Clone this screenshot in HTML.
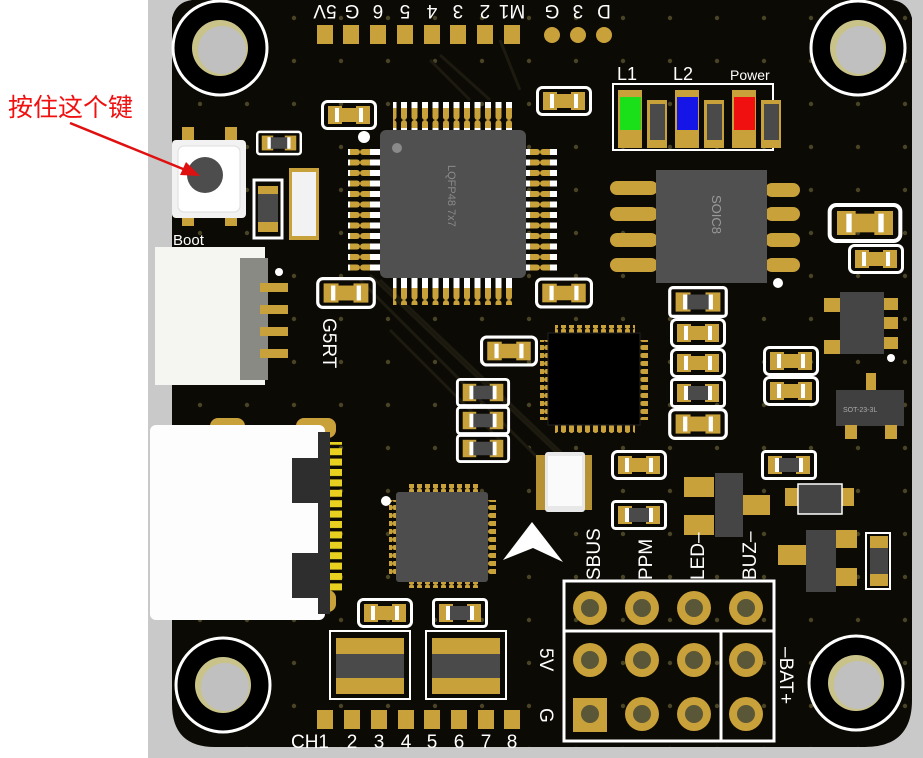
<!DOCTYPE html>
<html><head><meta charset="utf-8"><style>
html,body{margin:0;padding:0;background:#fff;width:923px;height:758px;overflow:hidden}
svg{display:block}
text{font-family:"Liberation Sans","Noto Sans CJK SC",sans-serif}
</style></head><body>
<svg width="923" height="758" viewBox="0 0 923 758" xmlns="http://www.w3.org/2000/svg">
<defs>
<symbol id="capH" viewBox="0 0 56 30" width="56" height="30"><rect x="1.5" y="1.5" width="53" height="27" rx="5" fill="none" stroke="#fff" stroke-width="3"/><rect x="7" y="6" width="14" height="18" fill="#c9a13a"/><rect x="35" y="6" width="14" height="18" fill="#c9a13a"/><rect x="17" y="8" width="22" height="14" fill="#c9a13a"/><rect x="14" y="8" width="4" height="14" fill="#fff"/><rect x="38" y="8" width="4" height="14" fill="#fff"/></symbol>
<symbol id="resH" viewBox="0 0 56 30" width="56" height="30"><rect x="1.5" y="1.5" width="53" height="27" rx="3" fill="none" stroke="#fff" stroke-width="3"/><rect x="7" y="6" width="14" height="18" fill="#c9a13a"/><rect x="35" y="6" width="14" height="18" fill="#c9a13a"/><rect x="17" y="8" width="22" height="14" fill="#4a4a4a"/><rect x="14" y="8" width="4" height="14" fill="#fff"/><rect x="38" y="8" width="4" height="14" fill="#fff"/></symbol>
<pattern id="pinV" width="10.5" height="30" patternUnits="userSpaceOnUse"><rect x="2" y="0" width="6" height="30" rx="3" fill="#c9a13a"/><rect x="2" y="8" width="6" height="10" fill="#fff"/></pattern>
<pattern id="pinH" width="30" height="10.5" patternUnits="userSpaceOnUse"><rect x="0" y="2" width="30" height="6" rx="3" fill="#c9a13a"/><rect x="10" y="2" width="10" height="6" fill="#fff"/></pattern>
<pattern id="qfnH" width="8" height="8" patternUnits="userSpaceOnUse"><rect x="1" y="0" width="5" height="10" rx="2.5" fill="#c9a13a"/></pattern>
<pattern id="qfnV" width="8" height="8" patternUnits="userSpaceOnUse"><rect x="0" y="1" width="10" height="5" rx="2.5" fill="#c9a13a"/></pattern>
<pattern id="usbP" width="10" height="10.4" patternUnits="userSpaceOnUse"><rect x="0" y="1" width="10" height="7" fill="#e8d020"/></pattern>
<pattern id="dots" width="47" height="43" patternUnits="userSpaceOnUse"><circle cx="12" cy="18" r="2.2" fill="#5a5230"/></pattern>
</defs>
<rect x="148" y="0" width="775" height="758" fill="#c9c9c9"/>
<path d="M172 0 H912 V700 Q912 747 865 747 H215 Q172 747 172 704 V0 Z" fill="#0c0a05"/>
<path d="M172 0 H912 V700 Q912 747 865 747 H215 Q172 747 172 704 V0 Z" fill="url(#dots)" opacity="0.8"/>
<path d="M172 0 V18 Q176 2 192 0 Z" fill="#c9c9c9"/>
<path d="M912 0 V18 Q908 2 892 0 Z" fill="#c9c9c9"/>
<g stroke="#1d1a10" stroke-width="3" fill="none">
<path d="M360 280 L560 480 M370 275 L575 470 M380 280 L590 480 M390 330 L500 440"/>
<path d="M430 60 L470 100 M440 55 L490 100 M500 40 L520 90"/>
</g>
<g>
<circle cx="220" cy="48" r="47" fill="#000" stroke="#fff" stroke-width="3"/><circle cx="220" cy="48" r="28" fill="#c9c38a"/><circle cx="222" cy="50" r="24" fill="#c0c0c0"/>
<circle cx="858" cy="48" r="47" fill="#000" stroke="#fff" stroke-width="3"/><circle cx="858" cy="48" r="28" fill="#c9c38a"/><circle cx="860" cy="50" r="24" fill="#c0c0c0"/>
<circle cx="223" cy="685" r="47" fill="#000" stroke="#fff" stroke-width="3"/><circle cx="223" cy="685" r="28" fill="#c9c38a"/><circle cx="225" cy="687" r="24" fill="#c0c0c0"/>
<circle cx="856" cy="683" r="47" fill="#000" stroke="#fff" stroke-width="3"/><circle cx="856" cy="683" r="28" fill="#c9c38a"/><circle cx="858" cy="685" r="24" fill="#c0c0c0"/>
</g>
<g fill="#c9a13a">
<rect x="317" y="25" width="16" height="19"/><rect x="343" y="25" width="16" height="19"/><rect x="370" y="25" width="16" height="19"/><rect x="397" y="25" width="16" height="19"/><rect x="424" y="25" width="16" height="19"/><rect x="450" y="25" width="16" height="19"/><rect x="477" y="25" width="16" height="19"/><rect x="504" y="25" width="16" height="19"/>
<circle cx="552" cy="35" r="8"/><circle cx="578" cy="35" r="8"/><circle cx="604" cy="35" r="8"/>
</g>
<g fill="#fff" font-size="19" text-anchor="middle">
<text transform="translate(325,5) rotate(180)">5V</text>
<text transform="translate(352,5) rotate(180)">G</text>
<text transform="translate(378,5) rotate(180)">6</text>
<text transform="translate(405,5) rotate(180)">5</text>
<text transform="translate(432,5) rotate(180)">4</text>
<text transform="translate(458,5) rotate(180)">3</text>
<text transform="translate(485,5) rotate(180)">2</text>
<text transform="translate(512,5) rotate(180)">M1</text>
<text transform="translate(552,5) rotate(180)">G</text>
<text transform="translate(578,5) rotate(180)">3</text>
<text transform="translate(604,5) rotate(180)">D</text>
</g>
<g fill="#c9a13a">
<rect x="317" y="710" width="16" height="19"/><rect x="344" y="710" width="16" height="19"/><rect x="371" y="710" width="16" height="19"/><rect x="398" y="710" width="16" height="19"/><rect x="424" y="710" width="16" height="19"/><rect x="451" y="710" width="16" height="19"/><rect x="478" y="710" width="16" height="19"/><rect x="504" y="710" width="16" height="19"/>
</g>
<g fill="#fff" font-size="19" text-anchor="middle">
<text x="310" y="748">CH1</text><text x="352" y="748">2</text><text x="379" y="748">3</text><text x="406" y="748">4</text><text x="432" y="748">5</text><text x="459" y="748">6</text><text x="486" y="748">7</text><text x="512" y="748">8</text>
</g>
<rect x="393" y="102" width="120" height="30" fill="url(#pinV)"/>
<rect x="393" y="275" width="120" height="30" fill="url(#pinV)"/>
<rect x="348" y="147" width="32" height="124" fill="url(#pinH)"/>
<rect x="525" y="147" width="32" height="124" fill="url(#pinH)"/>
<rect x="380" y="130" width="146" height="148" rx="6" fill="#505050"/>
<circle cx="397" cy="148" r="5" fill="#8a8a8a"/>
<text transform="translate(448,165) rotate(90)" fill="#8a8a8a" font-size="11">LQFP48  7x7</text>
<circle cx="364" cy="137" r="6" fill="#fff"/>
<use href="#capH" x="320" y="100" width="58" height="30"/>
<use href="#capH" x="536" y="86" width="56" height="30"/>
<use href="#resH" x="256" y="128" width="46" height="30"/>
<use href="#capH" x="316" y="277" width="60" height="32"/>
<use href="#capH" x="535" y="277" width="58" height="32"/>
<use href="#capH" x="480" y="335" width="58" height="32"/>
<use href="#resH" x="455" y="378" width="56" height="29"/>
<use href="#resH" x="455" y="406" width="56" height="29"/>
<use href="#resH" x="455" y="434" width="56" height="29"/>
<use href="#resH" x="668" y="286" width="60" height="32"/>
<use href="#capH" x="668" y="318" width="60" height="30"/>
<use href="#capH" x="668" y="348" width="60" height="30"/>
<use href="#resH" x="668" y="378" width="60" height="30"/>
<use href="#capH" x="668" y="408" width="60" height="32"/>
<use href="#capH" x="760" y="346" width="62" height="30"/>
<use href="#capH" x="760" y="376" width="62" height="30"/>
<use href="#capH" x="825" y="203" width="80" height="40"/>
<use href="#capH" x="847" y="244" width="58" height="30"/>
<use href="#capH" x="609" y="450" width="60" height="30"/>
<use href="#resH" x="609" y="500" width="60" height="30"/>
<use href="#resH" x="760" y="450" width="58" height="30"/>
<use href="#capH" x="354" y="598" width="62" height="30"/>
<use href="#resH" x="424" y="598" width="72" height="30"/>
<rect x="182" y="127" width="12" height="16" fill="#c9a13a"/><rect x="225" y="127" width="12" height="16" fill="#c9a13a"/>
<rect x="182" y="210" width="12" height="16" fill="#c9a13a"/><rect x="225" y="210" width="12" height="16" fill="#c9a13a"/>
<rect x="172" y="140" width="74" height="78" rx="4" fill="#f2f2f2"/>
<rect x="178" y="146" width="62" height="66" rx="6" fill="#fff" stroke="#ddd"/>
<circle cx="205" cy="175" r="18" fill="#4d4d4d"/>
<text x="173" y="245" fill="#fff" font-size="15">Boot</text>
<rect x="254" y="180" width="28" height="58" fill="none" stroke="#fff" stroke-width="3"/>
<rect x="258" y="186" width="20" height="46" fill="#c9a13a"/><rect x="258" y="194" width="20" height="28" fill="#4a4a4a"/>
<rect x="289" y="168" width="30" height="72" fill="#c9a13a"/><rect x="292" y="172" width="24" height="64" fill="#f2f2f2"/>
<rect x="155" y="247" width="110" height="138" fill="#f5f5f2"/>
<rect x="240" y="258" width="28" height="122" fill="#8a8a85"/>
<g fill="#c9a13a"><rect x="260" y="283" width="28" height="9"/><rect x="260" y="305" width="28" height="9"/><rect x="260" y="327" width="28" height="9"/><rect x="260" y="349" width="28" height="9"/></g>
<circle cx="279" cy="272" r="4" fill="#fff"/>
<text transform="translate(323,318) rotate(90)" fill="#fff" font-size="19">G5RT</text>
<rect x="210" y="418" width="35" height="20" rx="8" fill="#c9a13a"/><rect x="296" y="418" width="40" height="20" rx="8" fill="#c9a13a"/>
<rect x="300" y="590" width="36" height="22" rx="8" fill="#c9a13a"/>
<rect x="326" y="442" width="16" height="150" fill="url(#usbP)"/>
<rect x="150" y="425" width="175" height="195" rx="6" fill="#fdfdfd"/>
<rect x="318" y="432" width="12" height="182" fill="#2e2e2e"/>
<rect x="292" y="458" width="30" height="45" fill="#2e2e2e"/><rect x="292" y="553" width="30" height="45" fill="#2e2e2e"/>
<rect x="555" y="325" width="80" height="10" fill="url(#qfnH)"/>
<rect x="555" y="423" width="80" height="10" fill="url(#qfnH)"/>
<rect x="540" y="340" width="10" height="80" fill="url(#qfnV)"/>
<rect x="638" y="340" width="10" height="80" fill="url(#qfnV)"/>
<rect x="548" y="333" width="92" height="92" fill="#000" stroke="#222"/>
<rect x="406" y="484" width="74" height="10" fill="url(#qfnH)"/>
<rect x="406" y="578" width="74" height="10" fill="url(#qfnH)"/>
<rect x="389" y="500" width="10" height="74" fill="url(#qfnV)"/>
<rect x="486" y="500" width="10" height="74" fill="url(#qfnV)"/>
<rect x="396" y="492" width="92" height="90" rx="3" fill="#4d4d4d"/>
<circle cx="386" cy="501" r="5" fill="#fff"/>
<rect x="536" y="455" width="56" height="55" fill="#c9a13a" opacity="0.9"/>
<rect x="545" y="452" width="40" height="60" rx="3" fill="#e8e8e8"/>
<rect x="548" y="456" width="34" height="50" fill="#fafafa"/>
<path d="M503 560 L532 522 L563 562 L533 548 Z" fill="#fff"/>
<rect x="613" y="84" width="160" height="66" fill="none" stroke="#fff" stroke-width="2"/>
<g>
<rect x="618" y="90" width="24" height="58" fill="#c9a13a"/><rect x="620" y="97" width="21" height="33" fill="#19e019"/>
<rect x="647" y="100" width="20" height="48" fill="#c9a13a"/><rect x="650" y="104" width="15" height="36" fill="#4a4a4a"/>
<rect x="675" y="90" width="24" height="58" fill="#c9a13a"/><rect x="677" y="97" width="21" height="33" fill="#1515e8"/>
<rect x="704" y="100" width="20" height="48" fill="#c9a13a"/><rect x="707" y="104" width="15" height="36" fill="#4a4a4a"/>
<rect x="732" y="90" width="24" height="58" fill="#c9a13a"/><rect x="734" y="97" width="21" height="33" fill="#f01010"/>
<rect x="761" y="100" width="20" height="48" fill="#c9a13a"/><rect x="764" y="104" width="15" height="36" fill="#4a4a4a"/>
</g>
<g fill="#fff" font-size="18"><text x="617" y="80">L1</text><text x="673" y="80">L2</text><text x="730" y="80" font-size="14">Power</text></g>
<g fill="#c9a13a">
<rect x="610" y="181" width="48" height="14" rx="7"/><rect x="610" y="207" width="48" height="14" rx="7"/><rect x="610" y="233" width="48" height="14" rx="7"/><rect x="610" y="258" width="48" height="14" rx="7"/>
<rect x="765" y="183" width="35" height="14" rx="7"/><rect x="765" y="207" width="35" height="14" rx="7"/><rect x="765" y="233" width="35" height="14" rx="7"/><rect x="765" y="258" width="35" height="14" rx="7"/>
</g>
<rect x="656" y="170" width="111" height="113" fill="#505050"/>
<text transform="translate(712,195) rotate(90)" fill="#999" font-size="13">SOIC8</text>
<circle cx="778" cy="283" r="5" fill="#fff"/>
<g fill="#c9a13a"><rect x="824" y="298" width="20" height="14"/><rect x="824" y="340" width="20" height="14"/><rect x="880" y="298" width="18" height="12"/><rect x="880" y="317" width="18" height="12"/><rect x="880" y="337" width="18" height="12"/></g>
<rect x="840" y="292" width="44" height="62" fill="#454545"/>
<circle cx="891" cy="358" r="4" fill="#fff"/>
<rect x="866" y="373" width="10" height="20" fill="#c9a13a"/>
<rect x="836" y="390" width="68" height="36" fill="#404040"/>
<text x="843" y="412" fill="#aaa" font-size="7">SOT-23-3L</text>
<rect x="845" y="425" width="12" height="14" fill="#c9a13a"/><rect x="885" y="425" width="12" height="14" fill="#c9a13a"/>
<rect x="684" y="477" width="30" height="20" fill="#c9a13a"/><rect x="684" y="515" width="30" height="20" fill="#c9a13a"/><rect x="740" y="495" width="30" height="20" fill="#c9a13a"/>
<rect x="715" y="473" width="28" height="64" fill="#454545"/>
<rect x="785" y="488" width="14" height="18" fill="#c9a13a"/><rect x="840" y="488" width="14" height="18" fill="#c9a13a"/>
<rect x="798" y="484" width="44" height="30" fill="#444" stroke="#fff" stroke-width="1.5"/>
<rect x="778" y="545" width="28" height="20" fill="#c9a13a"/><rect x="835" y="530" width="22" height="18" fill="#c9a13a"/><rect x="835" y="568" width="22" height="18" fill="#c9a13a"/>
<rect x="806" y="530" width="30" height="62" fill="#454545"/>
<rect x="866" y="533" width="24" height="56" fill="none" stroke="#fff" stroke-width="2"/>
<rect x="870" y="536" width="18" height="50" fill="#c9a13a"/><rect x="870" y="548" width="18" height="26" fill="#454545"/>
<g>
<rect x="330" y="631" width="80" height="68" fill="none" stroke="#fff" stroke-width="2"/>
<rect x="336" y="638" width="68" height="56" fill="#c9a13a"/><rect x="336" y="654" width="68" height="24" fill="#4a4a4a"/>
<rect x="426" y="631" width="80" height="68" fill="none" stroke="#fff" stroke-width="2"/>
<rect x="432" y="638" width="68" height="56" fill="#c9a13a"/><rect x="432" y="654" width="68" height="24" fill="#4a4a4a"/>
</g>
<g fill="none" stroke="#fff" stroke-width="3">
<rect x="564" y="581" width="210" height="160"/>
<line x1="564" y1="631" x2="774" y2="631"/>
<line x1="721" y1="631" x2="721" y2="741"/>
</g>
<g fill="#c9a13a">
<circle cx="590" cy="608" r="17"/><circle cx="642" cy="608" r="17"/><circle cx="694" cy="608" r="17"/><circle cx="746" cy="608" r="17"/>
<circle cx="590" cy="660" r="17"/><circle cx="642" cy="660" r="17"/><circle cx="694" cy="660" r="17"/><circle cx="746" cy="660" r="17"/>
<rect x="573" y="698" width="34" height="34"/><circle cx="642" cy="714" r="17"/><circle cx="694" cy="714" r="17"/><circle cx="746" cy="714" r="17"/>
</g>
<g fill="#5a5638">
<circle cx="590" cy="608" r="9"/><circle cx="642" cy="608" r="9"/><circle cx="694" cy="608" r="9"/><circle cx="746" cy="608" r="9"/>
<circle cx="590" cy="660" r="9"/><circle cx="642" cy="660" r="9"/><circle cx="694" cy="660" r="9"/><circle cx="746" cy="660" r="9"/>
<circle cx="590" cy="714" r="9"/><circle cx="642" cy="714" r="9"/><circle cx="694" cy="714" r="9"/><circle cx="746" cy="714" r="9"/>
</g>
<g fill="#fff" font-size="19">
<text transform="translate(600,580) rotate(-90)">SBUS</text>
<text transform="translate(652,580) rotate(-90)">PPM</text>
<text transform="translate(704,580) rotate(-90)">LED–</text>
<text transform="translate(756,580) rotate(-90)">BUZ–</text>
<text transform="translate(540,648) rotate(90)">5V</text>
<text transform="translate(540,708) rotate(90)">G</text>
<text transform="translate(780,647) rotate(90)">–BAT+</text>
</g>
<text x="8" y="116" fill="#f01010" font-size="25" font-family="'Noto Sans CJK SC',sans-serif">按住这个键</text>
<line x1="70" y1="123" x2="188" y2="171" stroke="#e01010" stroke-width="2.5"/>
<path d="M200 176 L180 175 L186 162 Z" fill="#e01010"/>
</svg>
</body></html>
